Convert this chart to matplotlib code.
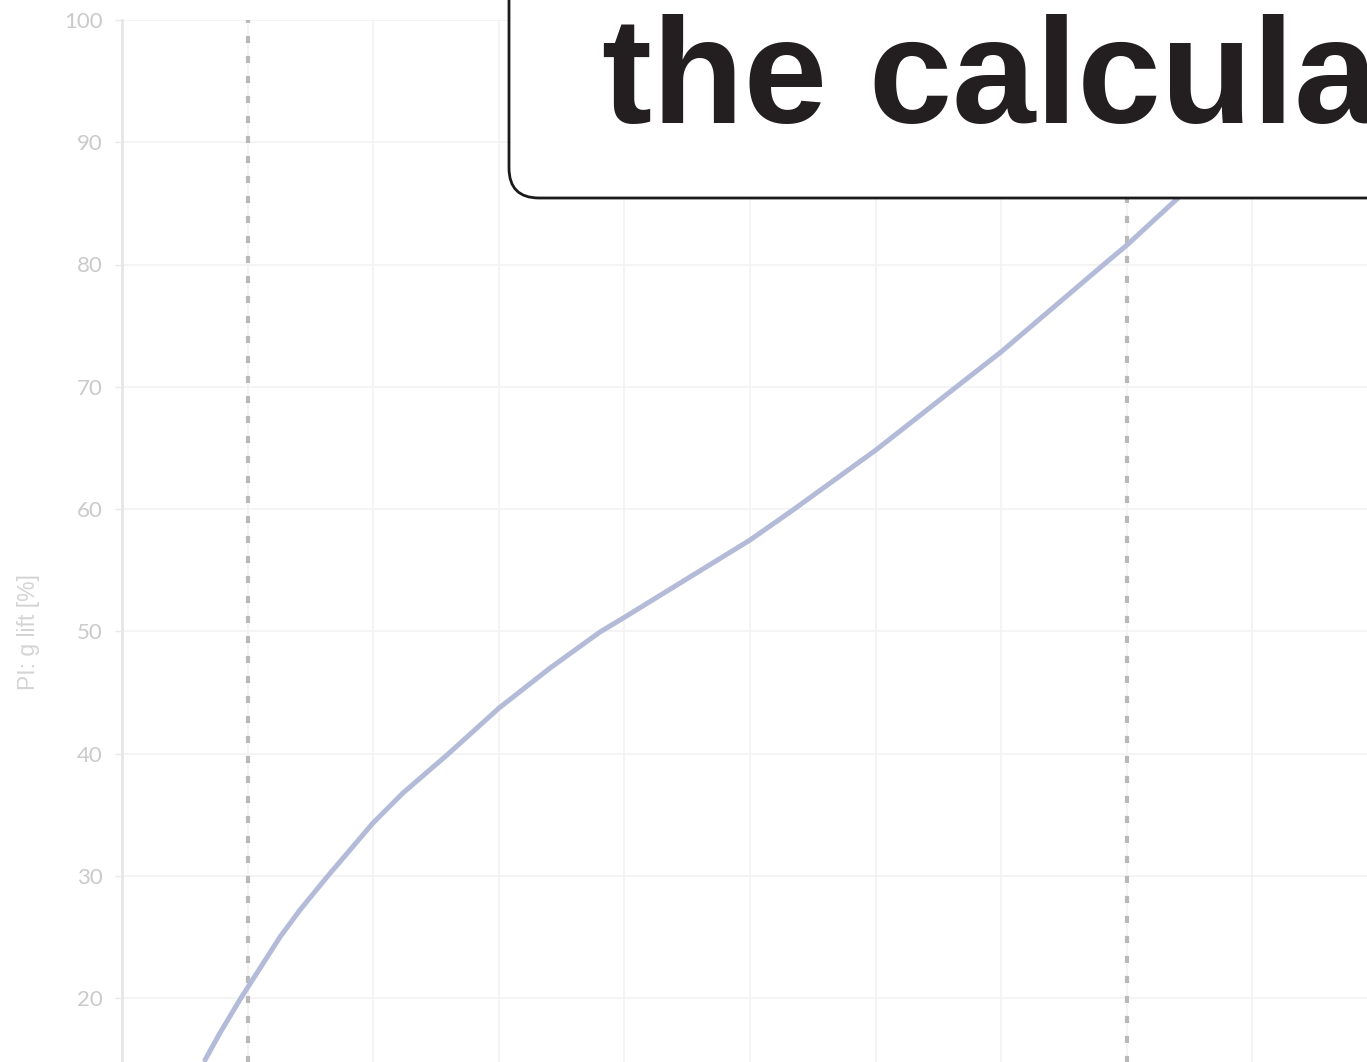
import matplotlib
matplotlib.use("Agg")
import matplotlib.pyplot as plt
from matplotlib.patches import FancyBboxPatch
from matplotlib.transforms import IdentityTransform

# ---------------------------------------------------------------------------
# Data
# ---------------------------------------------------------------------------

curve_x = [0.661, 0.780, 0.947, 1.258, 1.417, 1.632, 1.998, 2.237, 2.588,
           3.002, 3.408, 3.806, 4.005, 4.522, 5.0, 5.342, 6.003, 6.632,
           6.998, 7.803, 8.002, 8.408, 8.662]
curve_y = [14.93, 17.14, 20.00, 24.99, 27.20, 29.90, 34.31, 36.77, 39.88,
           43.72, 46.99, 49.94, 51.17, 54.44, 57.46, 59.92, 64.83, 69.90,
           72.84, 79.88, 81.60, 85.44, 87.89]

limit_x = [1, 8]
y_ticks = [20, 30, 40, 50, 60, 70, 80, 90, 100]
x_grid = list(range(0, 11))

y_label = "PI: g lift [%]"
callout = "the calcula"

# ---------------------------------------------------------------------------
# Figure
# ---------------------------------------------------------------------------

W, H = 1367, 1062
fig = plt.figure(figsize=(W / 100, H / 100), dpi=100)
fig.patch.set_facecolor("white")

# axes run past the bottom/right edge of the picture (cropped view)
ax = fig.add_axes([122 / W, (H - 1242.5) / H, 1256 / W, 1222.5 / H])
ax.set_xlim(0, 10)
ax.set_ylim(0, 100)

ax.set_xticks(x_grid)
ax.set_xticklabels([])
ax.tick_params(axis="x", length=0)
ax.set_yticks(y_ticks)
ax.set_yticklabels([str(v) for v in y_ticks], family="Lato", fontsize=16,
                   color="#cacaca")
ax.tick_params(axis="y", length=5, width=1, color="#e8e8e8", pad=9)
ax.grid(True, color="#f2f2f2", lw=1.2)
ax.set_axisbelow(True)
for side in ["top", "right", "bottom"]:
    ax.spines[side].set_visible(False)
ax.spines["left"].set_color("#e6e6e6")
ax.spines["left"].set_linewidth(2)

for xv in limit_x:
    ax.axvline(xv, color="#b9b9b9", lw=3, ls=(0, (1.7, 3.1)), zorder=2)

ax.plot(curve_x, curve_y, color="#b3bbd8", lw=3.6, solid_capstyle="round",
        solid_joinstyle="round", zorder=3)

fig.text(29 / W, 1 - 632 / H, y_label, rotation=90, ha="center", va="center",
         family="Liberation Sans", fontsize=16.5, color="#d4d4d4")

# callout box with large text
box = FancyBboxPatch((509, H - 198), 1100, 400,
                     boxstyle="round,pad=0,rounding_size=30",
                     transform=IdentityTransform(), facecolor="white",
                     edgecolor="#1a1a1a", lw=2, zorder=5)
fig.add_artist(box)
fig.text(602 / W, (H - 123) / H, callout, ha="left", va="baseline",
         family="Liberation Sans", fontweight="bold", fontsize=108,
         color="#231f20", zorder=6)

fig.savefig("out.png", dpi=100)
